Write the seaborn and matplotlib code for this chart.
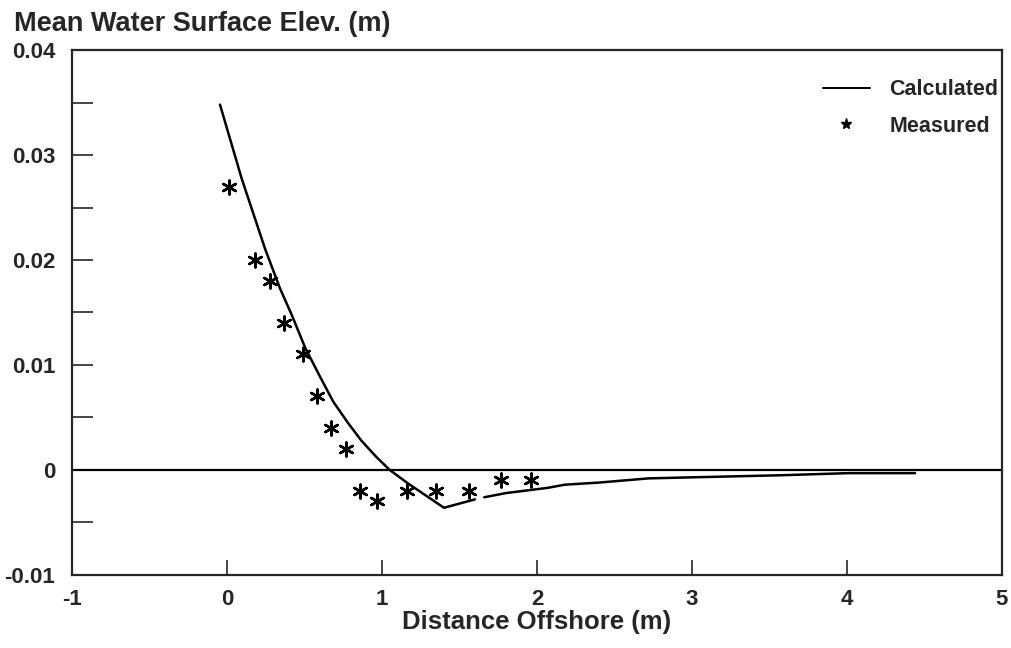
# mean water surface elevation: calculated vs measured
import matplotlib
matplotlib.use("Agg")
import matplotlib.pyplot as plt
from matplotlib.lines import Line2D
import seaborn as sns
import pandas as pd

# calculated curve (two pieces, there is a small gap near x=1.63)
calc_x1 = [-0.045, 0.094, 0.245, 0.342, 0.417, 0.506, 0.6, 0.686, 0.78, 0.867, 0.96, 1.05, 1.17, 1.29, 1.40, 1.50, 1.60]
calc_y1 = [0.0348, 0.0278, 0.0211, 0.0173, 0.0148, 0.0116, 0.0089, 0.0065, 0.0045, 0.0028, 0.0013, 0.0, -0.0013, -0.0025, -0.0036, -0.0032, -0.0028]
calc_x2 = [1.66, 1.8, 2.07, 2.18, 2.4, 2.72, 3.0, 3.58, 4.01, 4.2, 4.44]
calc_y2 = [-0.0026, -0.0022, -0.0017, -0.0014, -0.0012, -0.0008, -0.0007, -0.0005, -0.0003, -0.0003, -0.0003]

# measured points
meas_x = [0.01, 0.18, 0.28, 0.37, 0.49, 0.58, 0.67, 0.77, 0.86, 0.97, 1.16, 1.35, 1.56, 1.77, 1.96]
meas_y = [0.027, 0.020, 0.018, 0.014, 0.011, 0.007, 0.004, 0.002, -0.002, -0.003, -0.002, -0.002, -0.002, -0.001, -0.001]

x_ticks = [-1, 0, 1, 2, 3, 4, 5]
y_ticks = [-0.01, 0, 0.01, 0.02, 0.03, 0.04]
y_tick_labels = ["-0.01", "0", "0.01", "0.02", "0.03", "0.04"]

calc_df = pd.DataFrame({
    "x": calc_x1 + calc_x2,
    "y": calc_y1 + calc_y2,
    "seg": [1] * len(calc_x1) + [2] * len(calc_x2),
})
meas_df = pd.DataFrame({"x": meas_x, "y": meas_y})

sns.set_style("ticks")
plt.rcParams["font.family"] = ["Liberation Sans", "DejaVu Sans"]
plt.rcParams["font.weight"] = "bold"
plt.rcParams["axes.labelweight"] = "bold"

fig = plt.figure(figsize=(10.11, 6.48), dpi=100)
ax = fig.add_axes([0.0712, 0.1127, 0.9198, 0.8101])

star = (6, 2, 0)  # 6-spoke asterisk

ax.axhline(0, color="black", lw=1.6, zorder=1)
sns.lineplot(data=calc_df, x="x", y="y", units="seg", estimator=None,
             color="black", lw=1.8, ax=ax, legend=False)
sns.scatterplot(data=meas_df, x="x", y="y", marker=star, s=100,
                color="black", linewidth=1.8, ax=ax, legend=False)

ax.set_xlim(-1, 5)
ax.set_ylim(-0.01, 0.04)
ax.set_xticks(x_ticks)
ax.set_xticklabels([str(t) for t in x_ticks])
ax.set_yticks(y_ticks)
ax.set_yticklabels(y_tick_labels)
ax.set_yticks([-0.005, 0.005, 0.015, 0.025, 0.035], minor=True)
ax.tick_params(axis="both", which="both", direction="in", labelsize=16, width=1.2)
ax.tick_params(axis="x", which="major", length=11, pad=10)
ax.tick_params(axis="y", which="both", length=15, pad=12)
for sp in ax.spines.values():
    sp.set_linewidth(1.6)

ax.set_xlabel("Distance Offshore (m)", fontsize=18.5, labelpad=0)
ax.set_ylabel("")
fig.text(0.014, 0.952, "Mean Water Surface Elev. (m)", fontsize=19.5, ha="left", va="baseline")

handles = [
    Line2D([], [], color="black", lw=1.4),
    Line2D([], [], color="black", lw=0, marker="*", markersize=8),
]
ax.legend(handles, ["Calculated", "Measured"], loc="upper right", frameon=False,
          bbox_to_anchor=(1.01, 0.969),
          fontsize=15.5, handlelength=2.2, handletextpad=0.9, labelspacing=0.72,
          borderaxespad=0.3, borderpad=0.3)

fig.savefig("out.png", dpi=100)
